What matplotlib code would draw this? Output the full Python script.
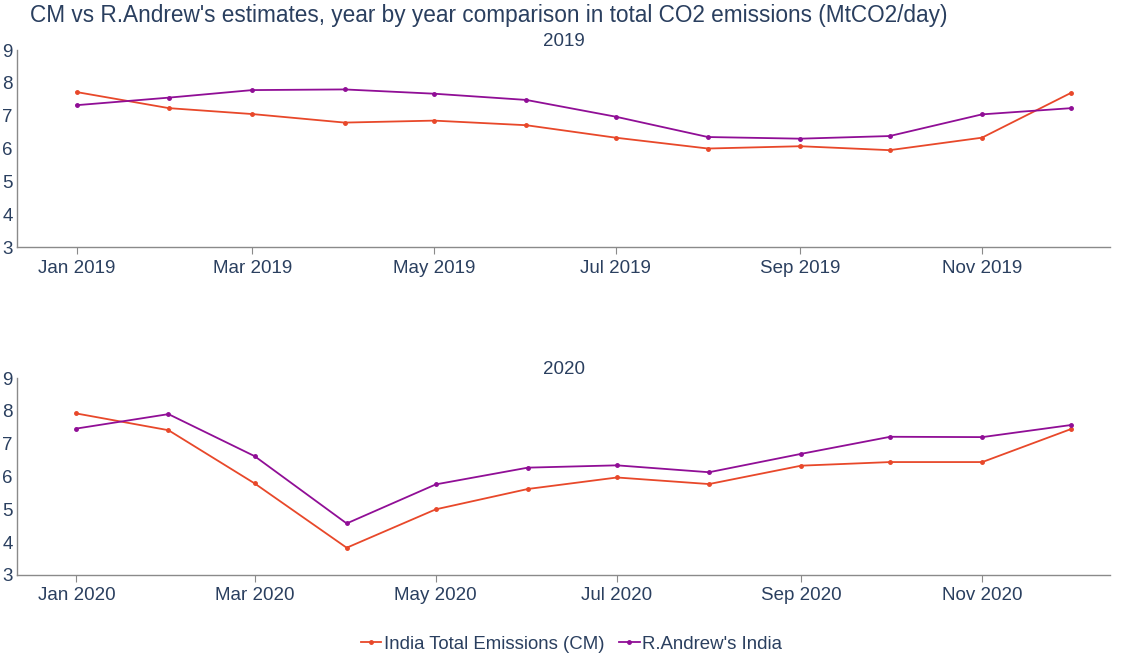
import matplotlib.pyplot as plt
import matplotlib.dates as mdates
import pandas as pd

plt.rcParams['font.family'] = ['Liberation Sans', 'DejaVu Sans']

meses_2019 = pd.date_range("2019-01-01", periods=12, freq="MS")
meses_2020 = pd.date_range("2020-01-01", periods=12, freq="MS")

cm_2019 = [7.72, 7.23, 7.05, 6.79, 6.85, 6.71, 6.33, 6.00, 6.07, 5.95, 6.33, 7.70]
andrew_2019 = [7.32, 7.55, 7.78, 7.80, 7.67, 7.48, 6.97, 6.35, 6.30, 6.38, 7.04, 7.23]
cm_2020 = [7.92, 7.41, 5.79, 3.83, 5.00, 5.62, 5.97, 5.77, 6.33, 6.44, 6.44, 7.45]
andrew_2020 = [7.46, 7.90, 6.62, 4.57, 5.76, 6.27, 6.34, 6.13, 6.69, 7.21, 7.20, 7.57]

cor_texto = "#2a3f5f"
cor_cm = "#e8482a"
cor_andrew = "#900e96"
cor_eixo = "#8a8a8a"

fig = plt.figure(figsize=(11.25, 6.54), dpi=100)
ax1 = fig.add_axes([0.0151, 0.6223, 0.9716, 0.3012])
ax2 = fig.add_axes([0.0151, 0.1208, 0.9716, 0.3012])

paineis = [
    (ax1, meses_2019, cm_2019, andrew_2019, "2019"),
    (ax2, meses_2020, cm_2020, andrew_2020, "2020"),
]

for ax, meses, cm, andrew, ano in paineis:
    ax.plot(meses, cm, color=cor_cm, lw=1.3, marker="o", ms=2.5,
            label="India Total Emissions (CM)")
    ax.plot(meses, andrew, color=cor_andrew, lw=1.3, marker="o", ms=2.5,
            label="R.Andrew's India")
    ax.set_ylim(3, 9)
    ax.set_yticks(range(3, 10))
    ax.set_xlim(pd.Timestamp(f"{ano}-01-01") - pd.Timedelta(days=20),
                pd.Timestamp(f"{ano}-12-14"))
    ax.xaxis.set_major_locator(mdates.MonthLocator(bymonth=[1, 3, 5, 7, 9, 11]))
    ax.xaxis.set_major_formatter(mdates.DateFormatter("%b %Y"))
    ax.xaxis.set_minor_locator(mdates.MonthLocator(bymonth=[2, 4, 6, 8, 10, 12]))
    for lado in ["top", "right"]:
        ax.spines[lado].set_visible(False)
    for lado in ["left", "bottom"]:
        ax.spines[lado].set_color(cor_eixo)
        ax.spines[lado].set_linewidth(1)
    ax.tick_params(axis="x", which="major", length=5, color=cor_eixo,
                   labelsize=13.5, labelcolor=cor_texto, pad=4)
    ax.tick_params(axis="x", which="minor", length=0)
    ax.tick_params(axis="y", length=0, labelsize=13.5, labelcolor=cor_texto, pad=3)
    ax.set_title(ano, fontsize=13.5, color=cor_texto, pad=1)

fig.text(0.027, 0.977, "CM vs R.Andrew's estimates, year by year comparison in total CO2 emissions (MtCO2/day)",
         fontsize=16.3, color=cor_texto, ha="left", va="center")

handles, labels = ax1.get_legend_handles_labels()
fig.legend(handles, labels, loc="center", bbox_to_anchor=(0.508, 0.015),
           ncol=2, frameon=False, fontsize=13.4, labelcolor=cor_texto,
           handlelength=1.1, handletextpad=0.15, columnspacing=0.8)

plt.savefig("out.png", dpi=100)
